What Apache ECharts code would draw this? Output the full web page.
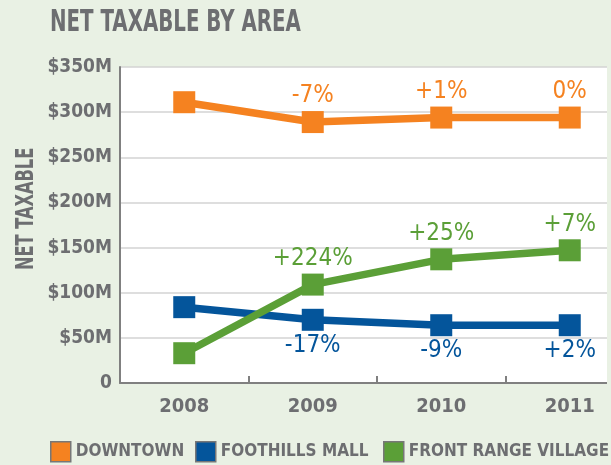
<!DOCTYPE html>
<html>
<head>
<meta charset="utf-8">
<script src="https://cdn.jsdelivr.net/npm/echarts@6/dist/echarts.min.js"></script>
<style>
html,body{margin:0;padding:0;background:#e9f1e4;}
#c{width:611px;height:465px;}
</style>
</head>
<body>
<div id="c"></div>
<script>
const categories = ['2008', '2009', '2010', '2011'];
const downtown = [311, 289, 294, 294];
const foothills = [84, 70, 64, 64];
const frontRange = [33, 109, 137, 147];
const downtownLabels = ['', '-7%', '+1%', '0%'];
const foothillsLabels = ['', '-17%', '-9%', '+2%'];
const frontRangeLabels = ['', '+224%', '+25%', '+7%'];
const yTicks = [0, 50, 100, 150, 200, 250, 300, 350];

const FONT = '"DejaVu Sans Condensed", "DejaVu Sans", sans-serif';
const GRAY = '#6d6e71';
const BG = '#e9f1e4';
const ORANGE = '#f58220', BLUE = '#04559b', GREEN = '#5b9f37';

const chart = echarts.init(document.getElementById('c'), null, {renderer: 'canvas'});

function mkSeries(name, data, labels, color, pos) {
  return {
    name: name, type: 'line', data: data,
    symbol: 'rect', symbolSize: 22,
    lineStyle: {color: color, width: 7.5},
    itemStyle: {color: color},
    z: 3,
    label: {
      show: true, position: pos, distance: 3,
      formatter: p => labels[p.dataIndex],
      color: color, fontFamily: FONT, fontSize: 24, fontWeight: 'normal'
    }
  };
}

chart.setOption({
  backgroundColor: BG,
  animation: false,
  graphic: [{
    type: 'text', x: 50, y: 7, z: 10,
    style: {text: 'NET TAXABLE BY AREA', fill: GRAY, font: 'bold 31px ' + FONT},
    scaleX: 0.71
  }, {
    type: 'text', x: 15, y: 270, z: 10, rotation: Math.PI / 2,
    style: {text: 'NET TAXABLE', fill: GRAY, font: 'bold 24px ' + FONT},
    scaleX: 0.75
  }, {
    type: 'rect', z: 10, shape: {x: 607, y: 55, width: 4, height: 335},
    style: {fill: BG}
  }],
  grid: {left: 120, right: -23, top: 67, bottom: 82, outerBoundsMode: 'none', containLabel: false,
         show: true, backgroundColor: '#ffffff', borderWidth: 0},
  legend: [
    {data: ['DOWNTOWN'], left: 50, top: 441},
    {data: ['FOOTHILLS MALL'], left: 195, top: 441},
    {data: ['FRONT RANGE VILLAGE'], left: 383, top: 441}
  ].map(l => Object.assign(l, {
    icon: 'rect', itemWidth: 20, itemHeight: 20, padding: 0,
    itemStyle: {borderColor: '#777', borderWidth: 1.5},
    textStyle: {color: GRAY, fontFamily: FONT, fontSize: 17, fontWeight: 'bold'}
  })),
  xAxis: {
    type: 'category', data: categories, boundaryGap: true,
    axisLine: {show: true, lineStyle: {color: '#808080', width: 2}},
    axisTick: {show: true, inside: true, length: 7, lineStyle: {color: '#808080', width: 2}},
    axisLabel: {color: GRAY, fontFamily: FONT, fontSize: 20, fontWeight: 'bold', margin: 14},
    splitLine: {show: false}
  },
  yAxis: {
    type: 'value', min: 0, max: 350, interval: 50,
    axisLine: {show: true, lineStyle: {color: '#808080', width: 2}},
    axisTick: {show: false},
    axisLabel: {
      color: GRAY, fontFamily: FONT, fontSize: 19, fontWeight: 'bold', margin: 8,
      formatter: v => yTicks.includes(v) ? (v === 0 ? '0' : '$' + v + 'M') : ''
    },
    splitLine: {show: true, lineStyle: {color: '#d3d3d3', width: 1.5}}
  },
  series: [
    mkSeries('DOWNTOWN', downtown, downtownLabels, ORANGE, 'top'),
    mkSeries('FOOTHILLS MALL', foothills, foothillsLabels, BLUE, 'bottom'),
    mkSeries('FRONT RANGE VILLAGE', frontRange, frontRangeLabels, GREEN, 'top')
  ]
});
</script>
</body>
</html>
